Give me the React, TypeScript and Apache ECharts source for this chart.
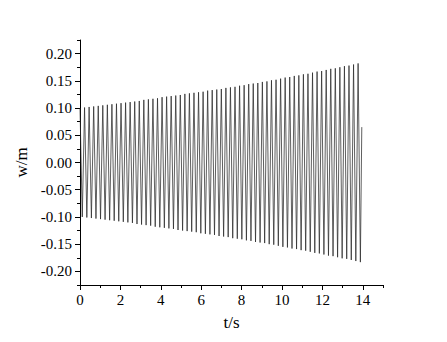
import React, { useEffect, useRef } from "react";
import * as echarts from "echarts";

// Oscillation period (seconds between successive peaks)
const PERIOD = 0.2257;
// Peak values (positive maxima), one per cycle
const peaks = [
  0.100, 0.101, 0.102, 0.103, 0.104, 0.105, 0.106, 0.107, 0.108, 0.109,
  0.110, 0.111, 0.112, 0.113, 0.115, 0.116, 0.117, 0.118, 0.120, 0.121,
  0.122, 0.123, 0.124, 0.126, 0.127, 0.128, 0.129, 0.130, 0.132, 0.133,
  0.134, 0.135, 0.137, 0.138, 0.139, 0.141, 0.142, 0.144, 0.145, 0.146,
  0.148, 0.149, 0.151, 0.152, 0.154, 0.156, 0.157, 0.159, 0.160, 0.162,
  0.163, 0.165, 0.167, 0.168, 0.170, 0.172, 0.173, 0.175, 0.177, 0.178,
  0.180, 0.182,
];
// Trough magnitudes (negative minima), half a period after each peak
const troughs = [
  0.100, 0.101, 0.102, 0.103, 0.104, 0.105, 0.106, 0.107, 0.108, 0.109,
  0.110, 0.111, 0.113, 0.114, 0.115, 0.116, 0.118, 0.119, 0.120, 0.121,
  0.122, 0.124, 0.125, 0.126, 0.127, 0.128, 0.130, 0.131, 0.132, 0.133,
  0.135, 0.136, 0.137, 0.139, 0.140, 0.141, 0.143, 0.144, 0.146, 0.147,
  0.148, 0.150, 0.151, 0.153, 0.155, 0.156, 0.158, 0.159, 0.161, 0.162,
  0.164, 0.166, 0.167, 0.169, 0.171, 0.172, 0.174, 0.176, 0.177, 0.179,
  0.181, 0.183,
];
// Last sample of the record
const endPoint = [13.95, 0.065];

const xMajor = [0, 2, 4, 6, 8, 10, 12, 14];
const xMinor = [1, 3, 5, 7, 9, 11, 13, 15];
const yMajor = [-0.2, -0.15, -0.1, -0.05, 0, 0.05, 0.1, 0.15, 0.2];
const yMinor = [-0.225, -0.175, -0.125, -0.075, -0.025, 0.025, 0.075, 0.125, 0.175, 0.225];

const FONT = "Liberation Serif";

export default function App() {
  const ref = useRef<HTMLDivElement>(null);
  useEffect(() => {
    if (!ref.current) return;
    const chart = echarts.init(ref.current, undefined, { renderer: "svg" });
    const data: number[][] = [];
    for (let k = 0; k < peaks.length; k++) {
      data.push([k * PERIOD, peaks[k]]);
      data.push([(k + 0.5) * PERIOD, -troughs[k]]);
    }
    data.push(endPoint);

    const axisLine = { show: true, onZero: false, lineStyle: { color: "#000", width: 1 } };
    chart.setOption({
      animation: false,
      textStyle: { fontFamily: FONT },
      grid: { left: 80, right: 64, top: 40, bottom: 57 },
      xAxis: [
        {
          type: "value",
          min: 0,
          max: 15,
          name: "t/s",
          nameLocation: "middle",
          nameGap: 29,
          nameTextStyle: { fontFamily: FONT, fontSize: 17, color: "#000" },
          axisLine,
          axisTick: { show: true, customValues: xMajor, length: 5, inside: false, lineStyle: { color: "#000" } },
          axisLabel: {
            customValues: xMajor,
            fontFamily: FONT,
            fontSize: 15,
            color: "#000",
            margin: 7,
          },
          splitLine: { show: false },
        },
        {
          type: "value",
          min: 0,
          max: 15,
          position: "bottom",
          axisLine: { show: false, onZero: false },
          axisTick: { show: true, customValues: xMinor, length: 3, lineStyle: { color: "#000" } },
          axisLabel: { show: false },
          splitLine: { show: false },
        },
      ],
      yAxis: [
        {
          type: "value",
          min: -0.225,
          max: 0.225,
          name: "w/m",
          nameLocation: "middle",
          nameGap: 46,
          nameRotate: 90,
          nameTextStyle: { fontFamily: FONT, fontSize: 17, color: "#000" },
          axisLine,
          axisTick: { show: true, customValues: yMajor, length: 5, lineStyle: { color: "#000" } },
          axisLabel: {
            customValues: yMajor,
            fontFamily: FONT,
            fontSize: 15,
            color: "#000",
            margin: 8,
            formatter: (v: number) => (Math.abs(v) < 1e-9 ? "0.00" : v.toFixed(2)),
          },
          splitLine: { show: false },
        },
        {
          type: "value",
          min: -0.225,
          max: 0.225,
          position: "left",
          axisLine: { show: false, onZero: false },
          axisTick: { show: true, customValues: yMinor, length: 3, lineStyle: { color: "#000" } },
          axisLabel: { show: false },
          splitLine: { show: false },
        },
      ],
      series: [
        {
          type: "line",
          xAxisIndex: 0,
          yAxisIndex: 0,
          data,
          showSymbol: false,
          symbol: "none",
          lineStyle: { color: "#2a2a2a", width: 0.75 },
        },
      ],
    });
    return () => chart.dispose();
  }, []);
  return (
    <div
      ref={ref}
      style={{ position: "fixed", left: 0, top: 0, width: 447, height: 342, background: "#fff" }}
    />
  );
}
